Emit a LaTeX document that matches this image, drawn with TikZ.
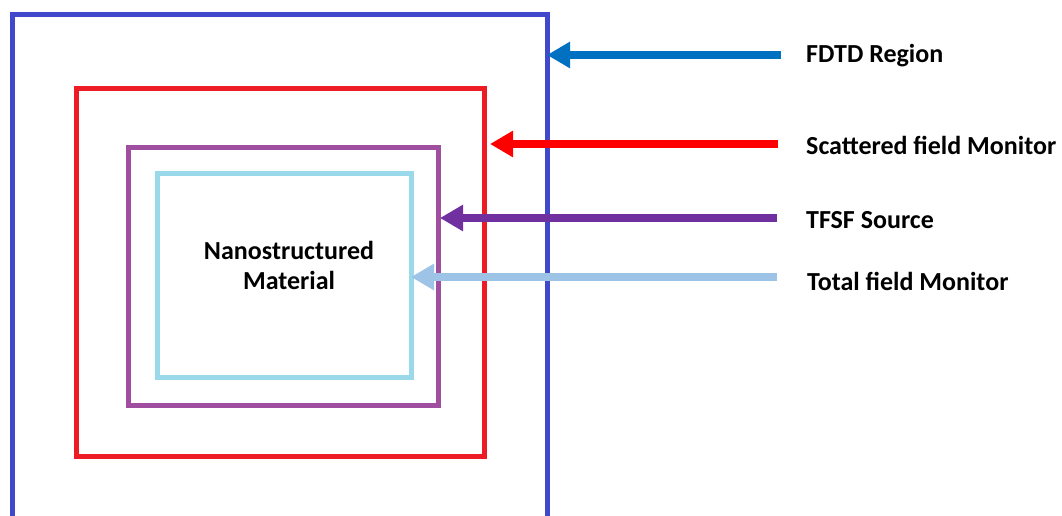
\documentclass[tikz,border=0pt]{standalone}
\usepackage{fontspec}
\setmainfont{Carlito}
\usetikzlibrary{arrows.meta}
\definecolor{bluebox}{RGB}{64,72,204}
\definecolor{redbox}{RGB}{237,28,36}
\definecolor{purplebox}{RGB}{160,78,160}
\definecolor{cyanbox}{RGB}{153,217,234}
\definecolor{fdtdarrow}{RGB}{0,112,192}
\definecolor{scatarrow}{RGB}{255,0,0}
\definecolor{tfsfarrow}{RGB}{112,48,160}
\definecolor{totarrow}{RGB}{157,195,230}
\tikzset{
  region/.style={draw, line width=5pt, inner sep=0pt, outer sep=0pt},
  pointer/.style={line width=8pt, -{Triangle[length=23pt,width=25pt]}},
  lbl/.style={anchor=west, inner sep=0pt, font=\bfseries\fontsize{26}{30}\selectfont},
}
\begin{document}
\begin{tikzpicture}[x=1pt,y=-1pt]
\useasboundingbox (0,0) rectangle (1062,516);
\clip (0,0) rectangle (1062,516);
\fill[white] (0,0) rectangle (1062,516);
\node[region, draw=bluebox, minimum width=535pt, minimum height=530pt] (fdtd) at (279.5,280) {};
\node[region, draw=redbox, minimum width=408pt, minimum height=367pt] (scat) at (280,272.5) {};
\node[region, draw=purplebox, minimum width=310pt, minimum height=258pt] (tfsf) at (283.5,276) {};
\node[region, draw=cyanbox, minimum width=254pt, minimum height=204pt] (tot) at (284,275.5) {};
\node[align=center, inner sep=0pt, font=\bfseries\fontsize{26}{30}\selectfont] (mat) at (289,265) {Nanostructured\\Material};
\node[lbl] (l1) at (806,56) {FDTD Region};
\node[lbl] (l2) at (806,145) {Scattered field Monitor};
\node[lbl] (l3) at (806,220) {TFSF Source};
\node[lbl] (l4) at (807,281) {Total field Monitor};
\coordinate (s1) at (781,55);
\coordinate (s2) at (778,144);
\coordinate (s3) at (777,218);
\coordinate (s4) at (777,277);
\coordinate (e2) at (490,144);
\coordinate (e3) at (440,218);
\draw[pointer, fdtdarrow] (s1) -- (fdtd.east |- s1);
\draw[pointer, scatarrow] (s2) -- (e2);
\draw[pointer, tfsfarrow] (s3) -- (e3);
\draw[pointer, totarrow] (s4) -- (tot.east |- s4);
\end{tikzpicture}
\end{document}
